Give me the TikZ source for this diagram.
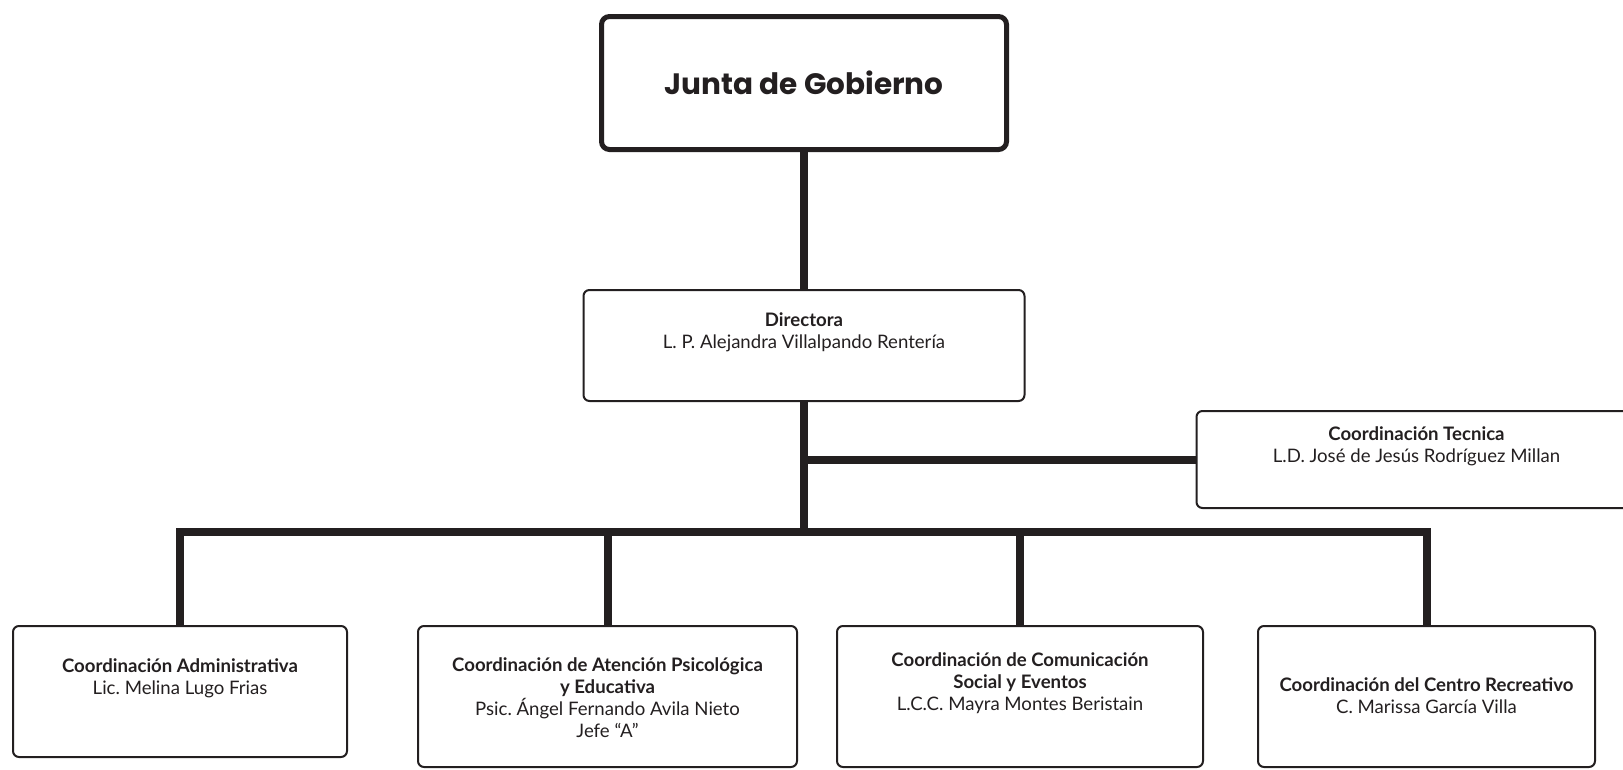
\documentclass[tikz,border=0pt]{standalone}
\usepackage{fontspec}
\setmainfont{Lato}
\newfontfamily\titlefont{Poppins}
\usetikzlibrary{positioning}
\definecolor{ink}{RGB}{35,31,32}
\frenchspacing

\begin{document}
\begin{tikzpicture}[x=1pt, y=1pt,
	unit/.style={draw=ink, line width=2pt, rounded corners=6pt, inner sep=0pt},
	txt/.style={align=center, inner sep=0pt, text=ink, font=\fontsize{18.6}{22}\selectfont},
	link/.style={draw=ink, line width=8pt}]
	\useasboundingbox (0,0) rectangle (1623,-769);
	\node[draw=ink, line width=5pt, rounded corners=8pt, minimum width=405pt, minimum height=133pt, text=ink, font=\titlefont\bfseries\fontsize{29.5}{34}\selectfont] (junta) at (804,-83) {Junta de Gobierno};
	\node[unit, minimum width=441pt, minimum height=111pt, below=137pt of junta] (dir) {};
	\node[txt, below=24pt of dir.north] (dirtxt) {\textbf{Directora}\\L. P. Alejandra Villalpando Rentería};
	\node[unit, minimum width=440pt, minimum height=97pt, below right=8pt and 170pt of dir.south east, anchor=north west] (tec) {};
	\node[txt, below=16pt of tec.north] (tectxt) {\textbf{Coordinación Tecnica}\\L.D. José de Jesús Rodríguez Millan};
	\node[unit, minimum width=334pt, minimum height=131pt, anchor=north] (adm) at (180,-625) {};
	\node[unit, minimum width=379pt, minimum height=141pt, right=69pt of adm.north east, anchor=north west] (psi) {};
	\node[unit, minimum width=366pt, minimum height=141pt, right=38pt of psi.north east, anchor=north west] (com) {};
	\node[unit, minimum width=337pt, minimum height=141pt, right=53pt of com.north east, anchor=north west] (cen) {};
	\node[txt, below=33pt of adm.north] (admtxt) {\textbf{Coordinación Administrativa}\\Lic. Melina Lugo Frias};
	\node[txt, below=32pt of psi.north] (psitxt) {\textbf{Coordinación de Atención Psicológica}\\\textbf{y Educativa}\\Psic. Ángel Fernando Avila Nieto\\Jefe “A”};
	\node[txt, below=27pt of com.north] (comtxt) {\textbf{Coordinación de Comunicación}\\\textbf{Social y Eventos}\\L.C.C. Mayra Montes Beristain};
	\node[txt, below=52pt of cen.north] (centxt) {\textbf{Coordinación del Centro Recreativo}\\C. Marissa García Villa};
	\coordinate (bus) at (804,-532);
	\draw[link] (junta) -- (dir);
	\draw[link] (dir) -- (bus);
	\draw[link] (tec.west) -- (tec.west -| bus);
	\draw[link] (adm.north) |- (bus) -| (cen.north);
	\draw[link] (psi.north) -- (psi.north |- bus);
	\draw[link] (com.north) -- (com.north |- bus);
\end{tikzpicture}
\end{document}
